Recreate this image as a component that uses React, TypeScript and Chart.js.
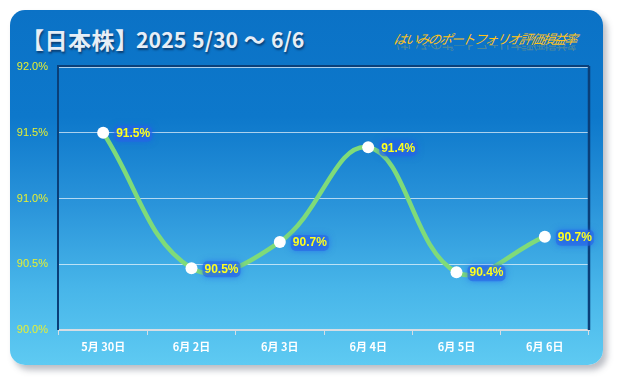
import React, { useEffect, useRef } from "react";
import { Chart, registerables } from "chart.js";

Chart.register(...registerables);

const categories = ["5月 30日", "6月 2日", "6月 3日", "6月 4日", "6月 5日", "6月 6日"];
const values = [91.5, 90.47, 90.67, 91.39, 90.44, 90.71];
const yMin = 90;
const yMax = 92;
const yStep = 0.5;
const titleMain = "【日本株】";
const titleDate = "2025 5/30 〜 6/6";
const subtitleText = "はいみのポートフォリオ評価損益率";

const framePlugin = {
  id: "frame",
  beforeDatasetsDraw(chart: any) {
    const { ctx, chartArea: a } = chart;
    ctx.save();
    ctx.strokeStyle = "#0a3f78";
    ctx.lineWidth = 2;
    ctx.beginPath();
    ctx.moveTo(a.left - 1, a.bottom);
    ctx.lineTo(a.left - 1, a.top - 1);
    ctx.lineTo(a.right, a.top - 1);
    ctx.stroke();
    ctx.lineWidth = 2.5;
    ctx.beginPath();
    ctx.moveTo(a.right, a.top - 1);
    ctx.lineTo(a.right, a.bottom);
    ctx.stroke();
    ctx.restore();
  },
};

const labelPlugin = {
  id: "valueLabels",
  afterDatasetsDraw(chart: any) {
    const { ctx } = chart;
    const meta = chart.getDatasetMeta(0);
    ctx.save();
    ctx.font = "bold 12px 'Liberation Sans', 'DejaVu Sans', sans-serif";
    ctx.textAlign = "left";
    ctx.textBaseline = "middle";
    meta.data.forEach((pt: any, i: number) => {
      const txt = values[i].toFixed(1) + "%";
      const x = pt.x + 13;
      const y = pt.y + 1;
      const w = ctx.measureText(txt).width;
      ctx.save();
      ctx.shadowColor = "rgba(30,90,235,0.9)";
      ctx.shadowBlur = 6;
      ctx.fillStyle = "rgba(40,100,230,0.6)";
      ctx.beginPath();
      ctx.roundRect(x - 2, y - 8, w + 4, 16, 5);
      ctx.fill();
      ctx.restore();
      ctx.fillStyle = "#ffff1e";
      ctx.fillText(txt, x, y);
    });
    ctx.restore();
  },
};

export default function App() {
  const ref = useRef<HTMLCanvasElement | null>(null);

  useEffect(() => {
    if (!ref.current) return;
    const chart = new Chart(ref.current, {
      type: "line",
      data: {
        labels: categories,
        datasets: [
          {
            data: values,
            borderColor: "#7fdb79",
            borderWidth: 4.5,
            tension: 0.4,
            pointRadius: 6,
            pointBackgroundColor: "#ffffff",
            pointBorderWidth: 0,
            fill: false,
          },
        ],
      },
      options: {
        animation: false,
        responsive: false,
        devicePixelRatio: 1,
        layout: { padding: { top: 67, right: 28, left: 0, bottom: 0 } },
        plugins: { legend: { display: false }, tooltip: { enabled: false } },
        scales: {
          x: {
            offset: true,
            afterFit: (s: any) => {
              s.height = 50;
            },
            border: { color: "#d6dde4", width: 2 },
            grid: {
              offset: true,
              drawOnChartArea: false,
              drawTicks: true,
              tickLength: 5,
              color: "#d6dde4",
            },
            ticks: {
              color: "#ffffff",
              padding: 5,
              font: { family: "'Noto Sans CJK JP', sans-serif", size: 11, weight: "bold" },
            },
          },
          y: {
            min: yMin,
            max: yMax,
            afterFit: (s: any) => {
              s.width = 59;
            },
            border: { display: false },
            grid: { color: "rgba(255,255,255,0.65)", lineWidth: 1, drawTicks: false },
            ticks: {
              stepSize: yStep,
              padding: 11,
              color: "#e6f032",
              font: { family: "'Liberation Sans', sans-serif", size: 11 },
              callback: (v: any) => Number(v).toFixed(1) + "%",
            },
          },
        },
      },
      plugins: [framePlugin, labelPlugin],
    });
    return () => chart.destroy();
  }, []);

  const titleFont = {
    fontFamily: "'Noto Sans CJK JP', sans-serif",
    fontWeight: "bold" as const,
    color: "#e6eef7",
    textShadow: "1px 2px 2px rgba(10,40,80,0.7)",
    whiteSpace: "nowrap" as const,
    position: "absolute" as const,
    lineHeight: "30px",
  };

  return (
    <div style={{ position: "fixed", left: 0, top: 0, width: 617, height: 380, background: "#ffffff", overflow: "hidden" }}>
      <div
        style={{
          position: "absolute",
          left: 10,
          top: 10,
          width: 593,
          height: 355,
          borderRadius: 15,
          background: "linear-gradient(180deg, #0b72c6 0%, #0d78cb 30%, #2a94da 55%, #47b5e9 78%, #5ecaf2 100%)",
          boxShadow: "4px 5px 6px rgba(60,70,90,0.35)",
        }}
      />
      <div style={{ ...titleFont, left: 21, top: 24, fontSize: 23, letterSpacing: 0.5 }}>{titleMain}</div>
      <div style={{ ...titleFont, left: 136, top: 24, fontSize: 21.3, wordSpacing: 1 }}>{titleDate}</div>
      <div
        style={{
          position: "absolute",
          right: 41,
          top: 29,
          fontFamily: "'Noto Sans CJK JP', sans-serif",
          fontStyle: "italic",
          fontSize: 13,
          lineHeight: "19px",
          letterSpacing: -1.6,
          color: "#ffc21a",
          transform: "skewX(-12deg)",
          whiteSpace: "nowrap",
        }}
      >
        {subtitleText}
      </div>
      <div
        style={{
          position: "absolute",
          right: 41,
          top: 45,
          height: 10,
          overflow: "hidden",
          fontFamily: "'Noto Sans CJK JP', sans-serif",
          fontStyle: "italic",
          fontSize: 13,
          lineHeight: "19px",
          letterSpacing: -1.6,
          color: "rgba(255,194,26,0.3)",
          whiteSpace: "nowrap",
        }}
      >
        <div style={{ transform: "scaleY(-1) skewX(12deg)", marginTop: -9 }}>{subtitleText}</div>
      </div>
      <canvas ref={ref} width={617} height={380} style={{ position: "absolute", left: 0, top: 0, width: 617, height: 380 }} />
    </div>
  );
}
